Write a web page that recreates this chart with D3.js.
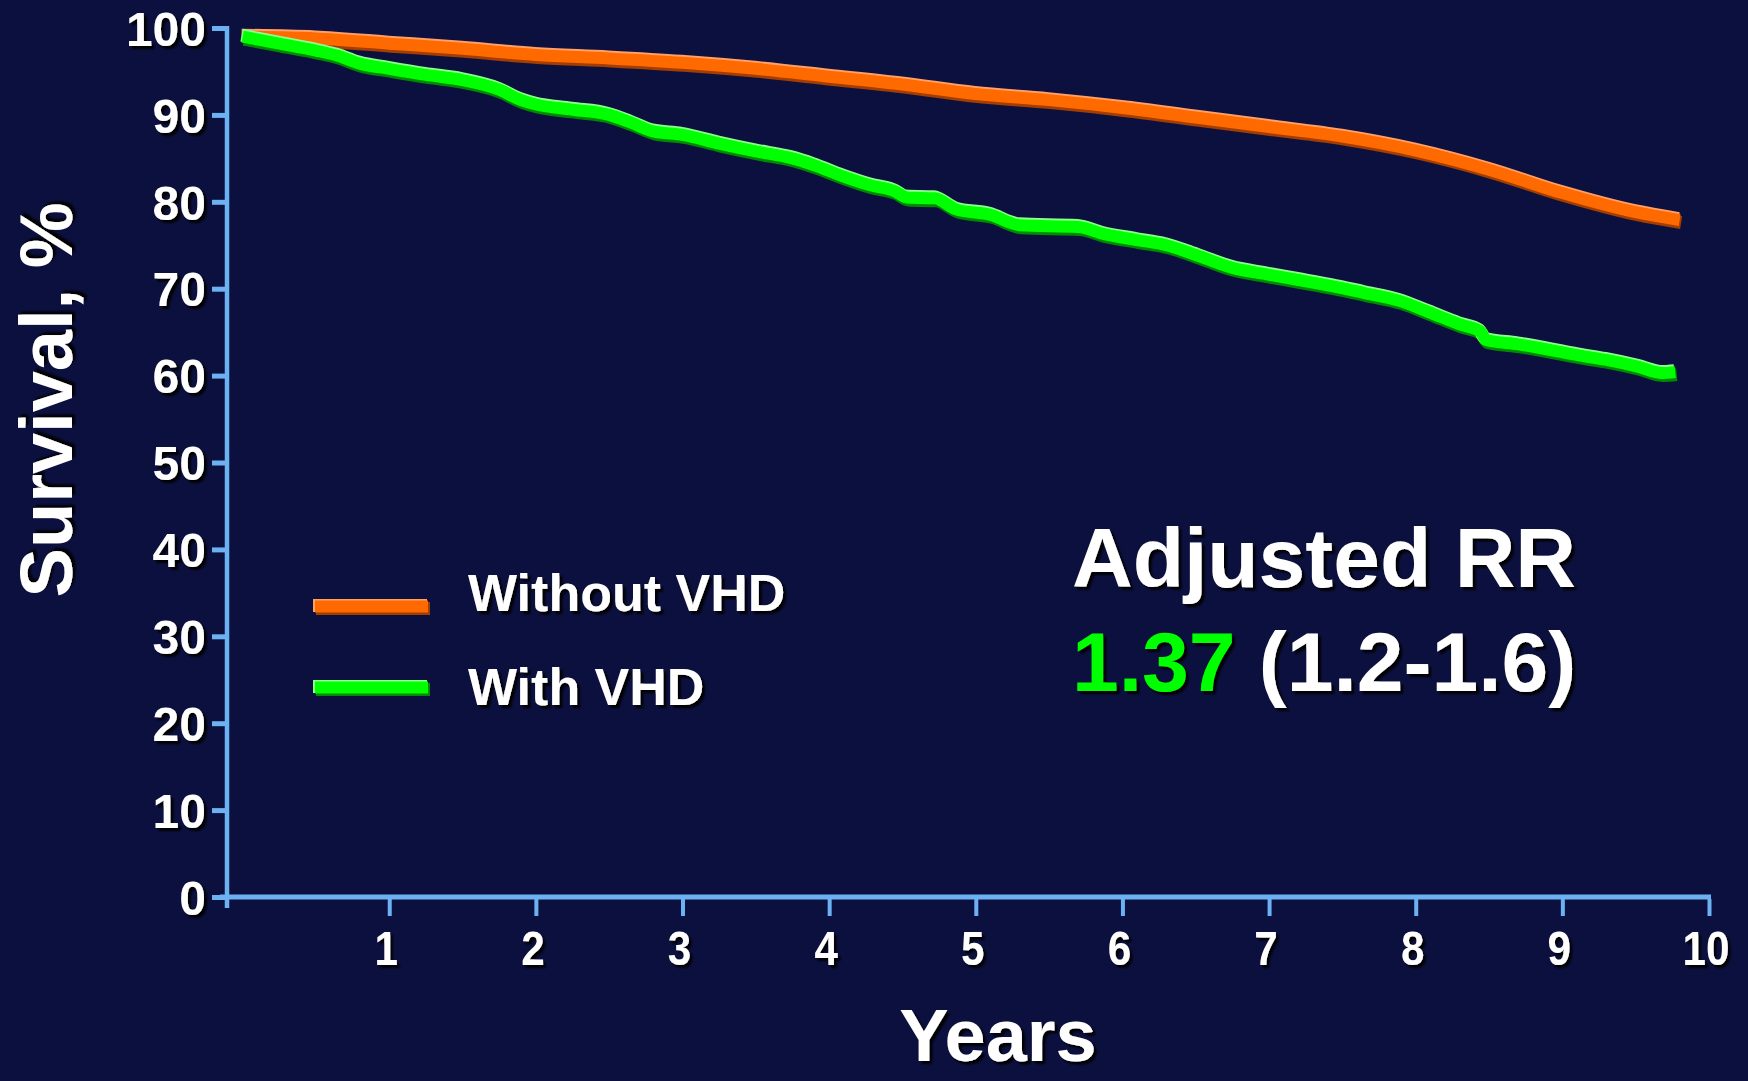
<!DOCTYPE html>
<html>
<head>
<meta charset="utf-8">
<script src="https://cdn.jsdelivr.net/npm/d3@7/dist/d3.min.js"></script>
<style>
  html, body { margin: 0; padding: 0; background: #0c103e; }
  svg { display: block; }
  text { font-family: "Liberation Sans", Arial, sans-serif; font-weight: bold; fill: #ffffff; }
</style>
</head>
<body>
<svg id="chart" width="1748" height="1081"></svg>
<script>
// Survival without valvular heart disease (years, %)
const withoutYears    = [0, 0.5, 1.0, 1.5, 2.0, 2.5, 3.0, 3.5, 4.0, 4.5, 5.0, 5.5, 6.0, 6.5, 7.0, 7.5, 8.0, 8.5, 9.0, 9.5, 9.8];
const withoutSurvival = [99.0, 98.8, 98.2, 97.6, 96.9, 96.5, 96.0, 95.3, 94.4, 93.5, 92.4, 91.7, 90.8, 89.7, 88.6, 87.5, 85.9, 83.7, 81.0, 78.8, 77.9];

// Survival with valvular heart disease (years, %)
const withYears    = [0, 0.25, 0.5, 0.65, 0.8, 1.0, 1.25, 1.5, 1.75, 1.9, 2.0, 2.25, 2.5, 2.65, 2.8, 3.0, 3.25, 3.5, 3.75, 3.9, 4.1, 4.28, 4.45, 4.53, 4.72, 4.87, 5.1, 5.3, 5.7, 5.87, 6.1, 6.3, 6.53, 6.75, 7.0, 7.2, 7.43, 7.65, 7.89, 8.09, 8.3, 8.44, 8.48, 8.7, 9.12, 9.3, 9.52, 9.68, 9.77];
const withSurvival = [99.0, 98.2, 97.4, 96.8, 95.9, 95.3, 94.6, 94.0, 92.9, 91.7, 91.2, 90.6, 90.0, 89.1, 88.1, 87.7, 86.7, 85.8, 85.0, 84.2, 82.9, 81.9, 81.2, 80.5, 80.4, 79.1, 78.5, 77.3, 77.1, 76.3, 75.6, 75.0, 73.7, 72.4, 71.6, 71.0, 70.3, 69.5, 68.6, 67.3, 65.9, 65.1, 64.1, 63.6, 62.3, 61.8, 61.0, 60.3, 60.4];

const yTicks = [0, 10, 20, 30, 40, 50, 60, 70, 80, 90, 100];
const xTicks = [1, 2, 3, 4, 5, 6, 7, 8, 9, 10];

const seriesNames = ["Without VHD", "With VHD"];
const yTitle = "Survival, %";
const xTitle = "Years";
const rrTitle = "Adjusted RR";
const rrValue = "1.37";
const rrInterval = " (1.2-1.6)";

// Palette
const bg = "#0c103e";
const axisColor = "#6cb2f2";
const orange = { main: "#ff6a00", light: "#ffa068", dark: "#a33d00" };
const green  = { main: "#00ff00", light: "#8cff8c", dark: "#008a00" };

const svg = d3.select("#chart");
svg.append("rect").attr("width", 1748).attr("height", 1081).attr("fill", bg);

const defs = svg.append("defs");
const shadow = defs.append("filter").attr("id", "txtShadow")
  .attr("x", "-10%").attr("y", "-10%").attr("width", "130%").attr("height", "140%");
shadow.append("feDropShadow").attr("dx", 3).attr("dy", 3).attr("stdDeviation", 1.2)
  .attr("flood-color", "#000").attr("flood-opacity", 0.95);

const x = d3.scaleLinear().domain([0, 10]).range([242.6, 1709]);
const y = d3.scaleLinear().domain([0, 100]).range([897, 28]);
const yAxisX = 227;

// Y axis
const gy = svg.append("g").attr("transform", `translate(${yAxisX},0)`)
  .call(d3.axisLeft(y).tickValues(yTicks).tickSize(15).tickSizeOuter(0).tickPadding(6));
gy.select(".domain").remove();
gy.selectAll(".tick line").attr("stroke", axisColor).attr("stroke-width", 5);
gy.selectAll(".tick text")
  .attr("font-size", 48).attr("fill", "#fff").attr("font-family", null)
  .attr("filter", "url(#txtShadow)").attr("dy", "0.36em");
svg.append("line").attr("x1", yAxisX).attr("x2", yAxisX)
  .attr("y1", y(100) - 2).attr("y2", y(0) + 11)
  .attr("stroke", axisColor).attr("stroke-width", 4.5);

// X axis
const gx = svg.append("g").attr("transform", `translate(0,${y(0) + 2})`)
  .call(d3.axisBottom(x).tickValues(xTicks).tickSize(17).tickSizeOuter(0));
gx.select(".domain").remove();
gx.selectAll(".tick line").attr("stroke", axisColor).attr("stroke-width", 4);
// condensed tick labels, centred just left of their ticks
gx.selectAll(".tick text")
  .attr("font-size", 48).attr("fill", "#fff").attr("font-family", null)
  .attr("filter", "url(#txtShadow)")
  .attr("dy", null).attr("x", -4).attr("y", 965 - y(0) - 2)
  .attr("transform", "scale(0.88,1)");
svg.append("line").attr("x1", yAxisX - 7).attr("x2", x(10) + 2)
  .attr("y1", y(0)).attr("y2", y(0))
  .attr("stroke", axisColor).attr("stroke-width", 5);

// Survival curves with bevelled edges
function drawCurve(xs, vs, col, curve) {
  const pts = xs.map((t, i) => [t, vs[i]]);
  const line = d3.line().x(d => x(d[0])).y(d => y(d[1])).curve(curve);
  const g = svg.append("g");
  g.append("path").attr("d", line(pts)).attr("fill", "none")
    .attr("stroke", col.dark).attr("stroke-width", 13).attr("transform", "translate(1.5,2.5)");
  g.append("path").attr("d", line(pts)).attr("fill", "none")
    .attr("stroke", col.light).attr("stroke-width", 13).attr("transform", "translate(-1,-1.5)");
  g.append("path").attr("d", line(pts)).attr("fill", "none")
    .attr("stroke", col.main).attr("stroke-width", 12);
}
drawCurve(withoutYears, withoutSurvival, orange, d3.curveMonotoneX);
drawCurve(withYears, withSurvival, green, d3.curveMonotoneX);

// Legend
const legend = svg.append("g");
[[orange, 607, 611], [green, 688, 705]].forEach(([col, ly, ty], i) => {
  legend.append("rect").attr("x", 316).attr("y", ly - 5).attr("width", 114).attr("height", 13).attr("fill", col.dark);
  legend.append("rect").attr("x", 313).attr("y", ly - 8).attr("width", 114).attr("height", 13).attr("fill", col.light);
  legend.append("rect").attr("x", 315).attr("y", ly - 6.5).attr("width", 113).attr("height", 12).attr("fill", col.main);
  legend.append("text").attr("x", 468).attr("y", ty).attr("font-size", 52)
    .attr("filter", "url(#txtShadow)").text(seriesNames[i]);
});

// Axis titles
svg.append("text").attr("transform", "translate(72,400) rotate(-90)")
  .attr("text-anchor", "middle").attr("font-size", 74)
  .attr("filter", "url(#txtShadow)").text(yTitle);
svg.append("text").attr("x", 998).attr("y", 1061)
  .attr("text-anchor", "middle").attr("font-size", 74)
  .attr("filter", "url(#txtShadow)").text(xTitle);

// Relative risk annotation
svg.append("text").attr("x", 1072).attr("y", 587).attr("font-size", 84)
  .attr("filter", "url(#txtShadow)").text(rrTitle);
const rr = svg.append("text").attr("x", 1072).attr("y", 691).attr("font-size", 84)
  .attr("filter", "url(#txtShadow)");
rr.append("tspan").attr("fill", green.main).text(rrValue);
rr.append("tspan").attr("fill", "#fff").text(rrInterval);
</script>
</body>
</html>
